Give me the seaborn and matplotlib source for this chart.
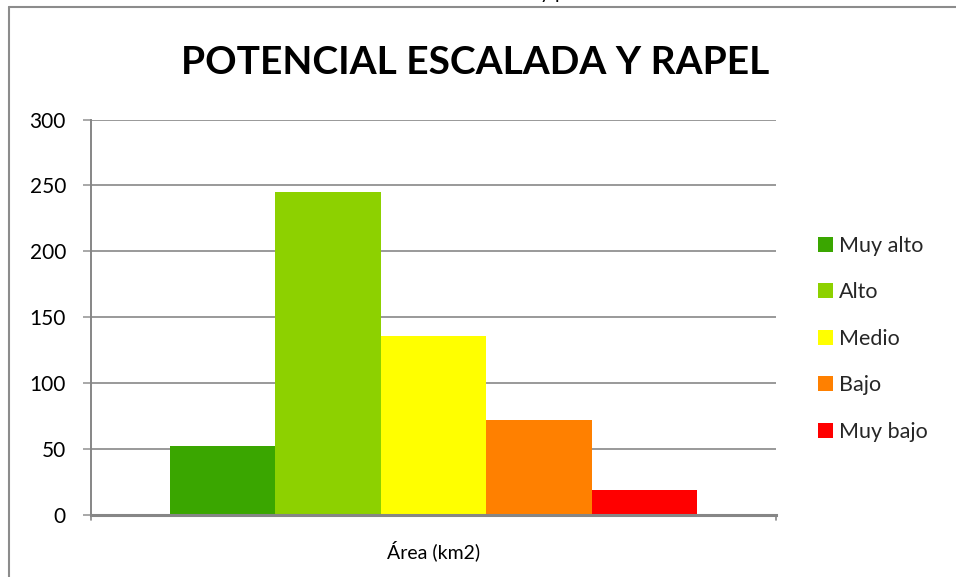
import matplotlib
matplotlib.use("Agg")
import matplotlib.pyplot as plt
from matplotlib.lines import Line2D
import seaborn as sns
import pandas as pd

# Area (km2) per climbing / rappelling potential class
categories = ["Muy alto", "Alto", "Medio", "Bajo", "Muy bajo"]
values = [52, 245, 136, 72, 19]
colors = ["#3aa600", "#8dd100", "#ffff00", "#ff8000", "#ff0000"]
group_label = "Área (km2)"
y_ticks = [0, 50, 100, 150, 200, 250, 300]

sns.set_theme(style="white")
plt.rcParams["font.family"] = ["Lato", "DejaVu Sans"]

df = pd.DataFrame({"grupo": [group_label] * len(categories),
                   "clase": categories,
                   "area": values})

W, H = 956, 577
fig = plt.figure(figsize=(W / 100, H / 100), dpi=100)
ax = fig.add_axes([91 / W, (H - 515) / H, (776 - 91) / W, (515 - 119.5) / H])

sns.barplot(data=df, x="grupo", y="area", hue="clase", hue_order=categories,
            palette=colors, width=0.77, gap=0, saturation=1, ax=ax,
            legend=True, errorbar=None, edgecolor="none", linewidth=0)

ax.set_xlim(-0.5, 0.5)
ax.set_ylim(0, 300)
ax.set_yticks(y_ticks)
ax.set_yticklabels([str(t) for t in y_ticks], fontsize=15, color="black")
ax.set_xticks([0])
ax.set_xticklabels([group_label], fontsize=14, color="black")
ax.set_xlabel("")
ax.set_ylabel("")

ax.yaxis.grid(True, color="#999999", linewidth=1.4)
ax.set_axisbelow(True)
for s in ["top", "right"]:
    ax.spines[s].set_visible(False)
ax.spines["left"].set_color("#868686")
ax.spines["left"].set_linewidth(1.4)
ax.spines["bottom"].set_color("#868686")
ax.spines["bottom"].set_linewidth(2.2)
ax.tick_params(axis="y", which="both", left=True, length=6, width=1.2,
               color="#999999", pad=12)
ax.tick_params(axis="x", bottom=False, pad=12)

# short ticks at both ends of the category axis
for xe in (-0.5, 0.5):
    ax.plot([xe, xe], [0, -4], color="#868686", lw=1.2, clip_on=False)

leg = ax.legend(loc="upper left", bbox_to_anchor=(1.033, 0.755), frameon=False,
                fontsize=15.5, handlelength=0.68, handleheight=0.68,
                handletextpad=0.3, labelspacing=1.23)

fig.text(475 / W, 1 - 62 / H, "POTENCIAL ESCALADA Y RAPEL", ha="center",
         va="center", fontsize=28, fontweight="bold", color="black")

# lower edge of the heading line above the chart, cut by the page edge
fig.text(553 / W, 1 + 1.5 / H, "y p", ha="center", va="baseline",
         fontsize=14, color="black")

# chart frame
fig.add_artist(Line2D([9 / W, 9 / W], [0, 1 - 7 / H], transform=fig.transFigure,
                      color="#8c8c8c", lw=1.5))
fig.add_artist(Line2D([9 / W, 1], [1 - 7 / H, 1 - 7 / H], transform=fig.transFigure,
                      color="#8c8c8c", lw=1.5))

fig.savefig("out.png", dpi=100, facecolor="white")
